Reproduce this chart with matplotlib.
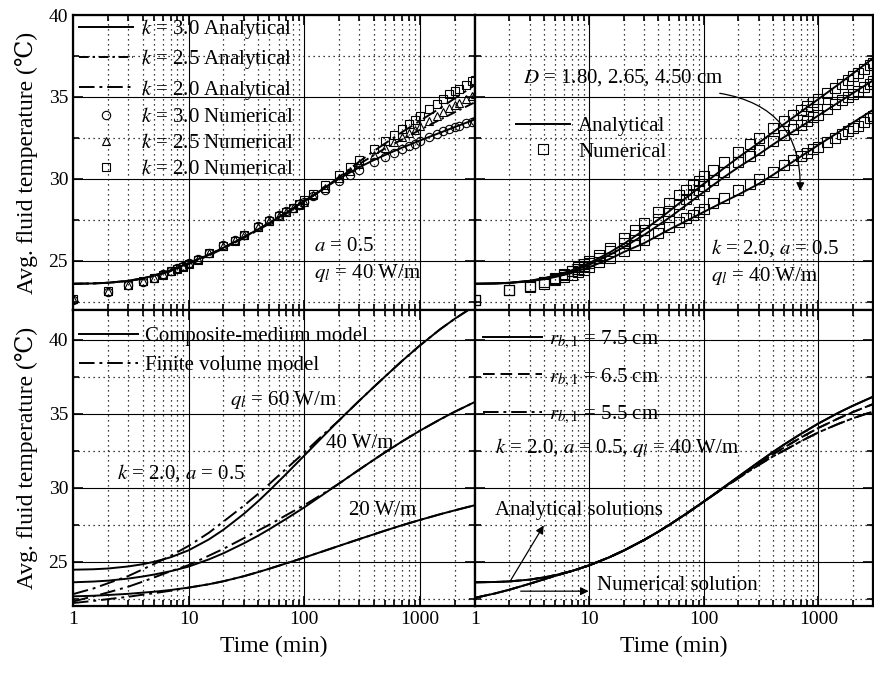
import matplotlib
matplotlib.use("Agg")
import matplotlib.pyplot as plt
from matplotlib.ticker import FixedLocator, MultipleLocator, LogLocator, NullFormatter
from matplotlib.lines import Line2D

plt.rcParams['font.family'] = ['Liberation Serif', 'DejaVu Serif']
plt.rcParams['mathtext.fontset'] = 'stix'

# time grid for the analytical / model curves (min)
t_curve = [1, 1.5, 2, 3, 4, 5, 7, 10, 15, 20, 30, 40, 50, 70, 100, 150, 200, 300, 400, 500,
           700, 1000, 1500, 2000, 3000]
# time grid for the numerical markers (min)
t_num = [1, 2, 3, 4, 5, 6, 7, 8, 9, 10, 12, 15, 20, 25, 30, 40, 50, 60, 70, 80, 90, 100,
         120, 150, 200, 250, 300, 400, 500, 600, 700, 800, 900, 1000, 1200, 1400, 1600,
         1800, 2000, 2200, 2500, 2800, 3000]

# top left: effect of k
k30_ana = [23.6, 23.62, 23.66, 23.78, 23.93, 24.1, 24.42, 24.85, 25.38, 25.8, 26.44, 26.93,
           27.32, 27.94, 28.64, 29.45, 30.01, 30.71, 31.15, 31.46, 31.9, 32.34, 32.82, 33.16,
           33.63]
k25_ana = [23.6, 23.62, 23.66, 23.78, 23.93, 24.1, 24.42, 24.85, 25.38, 25.8, 26.44, 26.93,
           27.32, 27.94, 28.64, 29.45, 30.06, 30.91, 31.45, 31.86, 32.4, 32.99, 33.62, 34.06,
           34.68]
k20_ana = [23.6, 23.62, 23.66, 23.77, 23.9, 24.06, 24.37, 24.8, 25.33, 25.75, 26.39, 26.88,
           27.27, 27.89, 28.59, 29.45, 30.11, 31.06, 31.7, 32.16, 32.85, 33.54, 34.32, 34.91,
           35.73]
k30_num = [22.6, 23.1, 23.5, 23.7, 23.95, 24.2, 24.4, 24.55, 24.7, 24.85, 25.1, 25.5, 25.95,
           26.3, 26.6, 27.1, 27.5, 27.8, 28.05, 28.25, 28.45, 28.6, 28.95, 29.35, 29.9, 30.25,
           30.55, 31.0, 31.35, 31.6, 31.8, 32.0, 32.15, 32.3, 32.55, 32.75, 32.9, 33.05, 33.15,
           33.25, 33.4, 33.5, 33.55]
k25_num = [22.65, 23.15, 23.5, 23.75, 23.95, 24.2, 24.4, 24.55, 24.7, 24.85, 25.1, 25.5, 25.9,
           26.25, 26.6, 27.05, 27.45, 27.75, 28.0, 28.2, 28.4, 28.6, 29.0, 29.45, 30.05, 30.5,
           30.9, 31.45, 31.9, 32.25, 32.55, 32.8, 33.0, 33.2, 33.55, 33.85, 34.1, 34.3, 34.5,
           34.65, 34.85, 35.05, 35.15]
k20_num = [22.65, 23.15, 23.5, 23.75, 23.95, 24.15, 24.35, 24.5, 24.65, 24.8, 25.05, 25.45,
           25.9, 26.2, 26.55, 27.05, 27.45, 27.75, 28.0, 28.25, 28.45, 28.7, 29.1, 29.65, 30.25,
           30.75, 31.15, 31.8, 32.3, 32.7, 33.05, 33.35, 33.6, 33.85, 34.25, 34.6, 34.9, 35.15,
           35.35, 35.5, 35.75, 35.95, 36.05]

# top right: effect of D
d180_ana = [23.6, 23.62, 23.66, 23.78, 23.94, 24.1, 24.42, 24.87, 25.51, 26.04, 26.88, 27.52,
            28.04, 28.85, 29.71, 30.66, 31.31, 32.19, 32.84, 33.34, 34.08, 34.87, 35.77, 36.43,
            37.36]
d265_ana = [23.6, 23.62, 23.66, 23.77, 23.92, 24.07, 24.36, 24.77, 25.36, 25.84, 26.58, 27.17,
            27.64, 28.4, 29.21, 30.11, 30.71, 31.49, 32.09, 32.54, 33.18, 33.87, 34.67, 35.23,
            36.01]
d450_ana = [23.6, 23.62, 23.65, 23.75, 23.88, 24.01, 24.26, 24.62, 25.11, 25.54, 26.08, 26.55,
            26.92, 27.43, 27.99, 28.61, 29.04, 29.69, 30.24, 30.69, 31.36, 32.07, 32.85, 33.43,
            34.21]
d180_num = [22.6, 23.2, 23.45, 23.7, 23.95, 24.2, 24.4, 24.6, 24.8, 25.0, 25.35, 25.8, 26.4,
            26.9, 27.3, 28.0, 28.55, 29.0, 29.35, 29.65, 29.9, 30.15, 30.55, 31.0, 31.65, 32.1,
            32.5, 33.1, 33.55, 33.9, 34.2, 34.45, 34.7, 34.9, 35.25, 35.55, 35.8, 36.05, 36.25,
            36.45, 36.7, 36.95, 37.1]
d265_num = [22.6, 23.2, 23.45, 23.7, 23.9, 24.15, 24.35, 24.5, 24.7, 24.85, 25.2, 25.6, 26.1,
            26.55, 26.9, 27.55, 28.05, 28.45, 28.8, 29.1, 29.35, 29.55, 29.95, 30.4, 31.0, 31.4,
            31.75, 32.3, 32.7, 33.05, 33.3, 33.55, 33.75, 33.9, 34.25, 34.55, 34.8, 35.0, 35.2,
            35.35, 35.6, 35.8, 35.95]
d450_num = [22.6, 23.2, 23.4, 23.6, 23.8, 24.0, 24.15, 24.3, 24.45, 24.6, 24.9, 25.2, 25.6,
            25.95, 26.25, 26.7, 27.05, 27.35, 27.6, 27.8, 28.0, 28.15, 28.5, 28.85, 29.35, 29.7,
            30.0, 30.45, 30.85, 31.15, 31.4, 31.6, 31.8, 31.95, 32.25, 32.5, 32.75, 32.95, 33.1,
            33.25, 33.5, 33.7, 33.85]

# bottom left: composite-medium vs finite volume model
q60_cm = [24.45, 24.48, 24.53, 24.67, 24.82, 24.98, 25.29, 25.76, 26.5, 27.15, 28.22, 29.08,
          29.8, 30.93, 32.16, 33.56, 34.54, 35.88, 36.8, 37.5, 38.55, 39.6, 40.7, 41.4, 42.3]
q60_fv = [22.8, 23.18, 23.53, 24.02, 24.47, 24.83, 25.39, 26.06, 26.95, 27.7, 28.77, 29.58,
          30.25, 31.28, 32.36, 33.66, 34.54, 35.88, 36.8, 37.5, 38.55, 39.6, 40.7, 41.4, 42.3]
q40_cm = [23.6, 23.65, 23.71, 23.85, 23.99, 24.12, 24.35, 24.66, 25.15, 25.56, 26.23, 26.75,
          27.19, 27.89, 28.66, 29.6, 30.27, 31.22, 31.88, 32.38, 33.11, 33.84, 34.61, 35.12,
          35.79]
q40_fv = [22.3, 22.65, 22.91, 23.3, 23.64, 23.92, 24.35, 24.76, 25.4, 25.86, 26.58, 27.1, 27.49,
          28.14, 28.81, 29.65, 30.27, 31.22, 31.88, 32.38, 33.11, 33.84, 34.61, 35.12, 35.79]
q20_cm = [22.65, 22.69, 22.74, 22.82, 22.9, 22.96, 23.08, 23.24, 23.47, 23.67, 24.01, 24.29,
          24.52, 24.88, 25.27, 25.73, 26.06, 26.52, 26.84, 27.09, 27.45, 27.81, 28.2, 28.46,
          28.81]
q20_fv = [22.2, 22.34, 22.46, 22.62, 22.76, 22.86, 23.03, 23.24, 23.47, 23.67, 24.01, 24.29,
          24.52, 24.88, 25.27, 25.73, 26.06, 26.52, 26.84, 27.09, 27.45, 27.81, 28.2, 28.46,
          28.81]

# bottom right: effect of borehole radius
rb75_ana = [23.6, 23.62, 23.66, 23.78, 23.93, 24.08, 24.36, 24.75, 25.3, 25.75, 26.46, 27.02,
            27.49, 28.23, 29.06, 30.04, 30.74, 31.72, 32.4, 32.9, 33.62, 34.33, 35.06, 35.53,
            36.14]
rb65_ana = [23.6, 23.62, 23.66, 23.78, 23.93, 24.08, 24.36, 24.75, 25.3, 25.75, 26.46, 27.02,
            27.49, 28.23, 29.06, 30.02, 30.69, 31.62, 32.25, 32.7, 33.37, 34.03, 34.68, 35.1,
            35.64]
rb55_ana = [23.6, 23.62, 23.66, 23.78, 23.93, 24.08, 24.36, 24.75, 25.3, 25.75, 26.46, 27.02,
            27.49, 28.23, 29.06, 29.99, 30.64, 31.52, 32.1, 32.5, 33.12, 33.73, 34.31, 34.68,
            35.14]
rb75_num = [22.55, 22.85, 23.1, 23.5, 23.8, 24.03, 24.36, 24.75, 25.3, 25.75, 26.46, 27.02,
            27.49, 28.23, 29.06, 30.04, 30.74, 31.72, 32.4, 32.9, 33.62, 34.33, 35.06, 35.53,
            36.14]
rb65_num = [22.55, 22.85, 23.1, 23.5, 23.8, 24.03, 24.36, 24.75, 25.3, 25.75, 26.46, 27.02,
            27.49, 28.23, 29.06, 30.02, 30.69, 31.62, 32.25, 32.7, 33.37, 34.03, 34.68, 35.1,
            35.64]
rb55_num = [22.55, 22.85, 23.1, 23.5, 23.8, 24.03, 24.36, 24.75, 25.3, 25.75, 26.46, 27.02,
            27.49, 28.23, 29.06, 29.99, 30.64, 31.52, 32.1, 32.5, 33.12, 33.73, 34.31, 34.68,
            35.14]

DASHDOT = (0, (5, 2, 1.2, 2))
LONGDASHDOT = (0, (8, 2.5, 1.5, 2.5))
DASHED = (0, (6, 3))

TICK_FS = 14
LABEL_FS = 17
TEXT_FS = 15


def style_axes(ax, ymax, show_xlabels, show_ylabels):
    ax.set_xscale('log')
    ax.set_xlim(1, 3000)
    ax.set_ylim(22, ymax)
    ax.yaxis.set_major_locator(FixedLocator([25, 30, 35, 40]))
    ax.yaxis.set_minor_locator(MultipleLocator(2.5))
    ax.xaxis.set_major_locator(LogLocator(base=10, numticks=10))
    ax.xaxis.set_minor_locator(LogLocator(base=10, subs=range(2, 10), numticks=10))
    ax.xaxis.set_minor_formatter(NullFormatter())
    ax.grid(which='major', color='black', lw=0.8, ls='-')
    ax.grid(which='minor', color='black', lw=0.9, ls=(0, (1, 3)))
    ax.set_axisbelow(True)
    ax.tick_params(which='both', direction='in', top=True, right=True, width=1.2,
                   labelsize=TICK_FS)
    ax.tick_params(which='major', length=7)
    ax.tick_params(which='minor', length=4)
    for s in ax.spines.values():
        s.set_linewidth(1.6)
    if show_xlabels:
        ax.set_xticks([1, 10, 100, 1000])
        ax.set_xticklabels(['1', '10', '100', '1000'])
        ax.set_xlabel('Time (min)', fontsize=LABEL_FS, labelpad=6)
    else:
        ax.tick_params(axis='x', which='both', labelbottom=False)
    if show_ylabels:
        ax.set_ylabel('Avg. fluid temperature (\u2103)', fontsize=LABEL_FS, labelpad=8)
    else:
        ax.tick_params(axis='y', which='both', labelleft=False)


fig = plt.figure(figsize=(8.74, 6.73), dpi=100)
ax_tl = fig.add_axes([0.0835, 0.5394, 0.46, 0.4383])
ax_tr = fig.add_axes([0.5435, 0.5394, 0.4554, 0.4383])
ax_bl = fig.add_axes([0.0835, 0.0996, 0.46, 0.4398])
ax_br = fig.add_axes([0.5435, 0.0996, 0.4554, 0.4398])

style_axes(ax_tl, 40, False, True)
style_axes(ax_tr, 40, False, False)
style_axes(ax_bl, 42, True, True)
style_axes(ax_br, 42, True, False)

LW = 1.4
mk = dict(mfc='none', mec='black', mew=0.8, ls='none')

# ---- top left
ax_tl.plot(t_curve, k30_ana, color='black', lw=LW, ls='-', label='$k$ = 3.0 Analytical')
ax_tl.plot(t_curve, k25_ana, color='black', lw=LW, ls=DASHDOT, label='$k$ = 2.5 Analytical')
ax_tl.plot(t_curve, k20_ana, color='black', lw=LW, ls=LONGDASHDOT, label='$k$ = 2.0 Analytical')
ax_tl.plot(t_num, k30_num, marker='o', ms=6, label='$k$ = 3.0 Numerical', **mk)
ax_tl.plot(t_num, k25_num, marker='^', ms=6, label='$k$ = 2.5 Numerical', **mk)
ax_tl.plot(t_num, k20_num, marker='s', ms=5.5, label='$k$ = 2.0 Numerical', **mk)
ax_tl.legend(loc='upper left', bbox_to_anchor=(0.0, 1.014), frameon=False, fontsize=TEXT_FS,
             handlelength=2.6, handletextpad=0.35, labelspacing=0.3, borderaxespad=0.1,
             borderpad=0.2, numpoints=1)
ax_tl.text(122, 25.85, '$a$ = 0.5', fontsize=TEXT_FS, va='center')
ax_tl.text(122, 24.25, '$q_l$ = 40 W/m', fontsize=TEXT_FS, va='center')

# ---- top right
for ana, num in [(d180_ana, d180_num), (d265_ana, d265_num), (d450_ana, d450_num)]:
    ax_tr.plot(t_curve, ana, color='black', lw=LW, ls='-')
    ax_tr.plot(t_num, num, marker='s', ms=7, **mk)
ax_tr.text(2.6, 36.2, '$D$ = 1.80, 2.65, 4.50 cm', fontsize=TEXT_FS, va='center')
h_tr = [Line2D([], [], color='black', lw=LW),
        Line2D([], [], marker='s', ms=7, **mk)]
ax_tr.legend(h_tr, ['Analytical', 'Numerical'], loc='upper left', bbox_to_anchor=(0.055, 0.72),
             frameon=False, fontsize=TEXT_FS, handlelength=2.6, handletextpad=0.4,
             labelspacing=0.3, numpoints=1)
ax_tr.annotate('', xy=(690, 29.1), xytext=(130, 35.25),
               arrowprops=dict(arrowstyle='-|>', color='black', lw=0.9,
                               connectionstyle='arc3,rad=-0.45', mutation_scale=12))
ax_tr.text(115, 25.8, '$k$ = 2.0, $a$ = 0.5', fontsize=TEXT_FS, va='center')
ax_tr.text(115, 24.1, '$q_l$ = 40 W/m', fontsize=TEXT_FS, va='center')

# ---- bottom left
for cm, fv in [(q60_cm, q60_fv), (q40_cm, q40_fv), (q20_cm, q20_fv)]:
    ax_bl.plot(t_curve, cm, color='black', lw=LW, ls='-')
    ax_bl.plot(t_curve, fv, color='black', lw=LW, ls=LONGDASHDOT)
h_bl = [Line2D([], [], color='black', lw=LW, ls='-'),
        Line2D([], [], color='black', lw=LW, ls=LONGDASHDOT)]
ax_bl.legend(h_bl, ['Composite-medium model', 'Finite volume model'], loc='upper left',
             bbox_to_anchor=(0.0, 0.965), frameon=False, fontsize=TEXT_FS, handlelength=2.8,
             handletextpad=0.35, labelspacing=0.45, borderaxespad=0.1, borderpad=0.2)
ax_bl.text(23, 35.9, '$q_l$ = 60 W/m', fontsize=TEXT_FS, va='center')
ax_bl.text(155, 33.0, '40 W/m', fontsize=TEXT_FS, va='center')
ax_bl.text(246, 28.45, '20 W/m', fontsize=TEXT_FS, va='center')
ax_bl.text(2.4, 31.0, '$k$ = 2.0, $a$ = 0.5', fontsize=TEXT_FS, va='center')

# ---- bottom right
styles_br = ['-', DASHED, LONGDASHDOT]
labels_br = ['$r_{b,1}$ = 7.5 cm', '$r_{b,1}$ = 6.5 cm', '$r_{b,1}$ = 5.5 cm']
for ana, num, ls, lab in zip([rb75_ana, rb65_ana, rb55_ana], [rb75_num, rb65_num, rb55_num],
                             styles_br, labels_br):
    ax_br.plot(t_curve, ana, color='black', lw=LW, ls=ls, label=lab)
    ax_br.plot(t_curve, num, color='black', lw=LW, ls=ls)
h_br, l_br = ax_br.get_legend_handles_labels()
ax_br.legend(h_br, l_br, loc='upper left', bbox_to_anchor=(0.0, 0.965), frameon=False,
             fontsize=TEXT_FS, handlelength=2.8, handletextpad=0.35, labelspacing=0.75,
             borderaxespad=0.1, borderpad=0.3)
ax_br.text(1.5, 32.7, '$k$ = 2.0, $a$ = 0.5, $q_l$ = 40 W/m', fontsize=TEXT_FS, va='center')
ax_br.text(1.5, 28.45, 'Analytical solutions', fontsize=TEXT_FS, va='center')
ax_br.annotate('', xy=(4.1, 27.6), xytext=(2.0, 23.6),
               arrowprops=dict(arrowstyle='-|>', color='black', lw=0.9, mutation_scale=12))
ax_br.text(11.7, 23.4, 'Numerical solution', fontsize=TEXT_FS, va='center')
ax_br.annotate('', xy=(10.4, 23.0), xytext=(2.37, 23.0),
               arrowprops=dict(arrowstyle='-|>', color='black', lw=0.9, mutation_scale=12))

fig.savefig('out.png', dpi=100)
